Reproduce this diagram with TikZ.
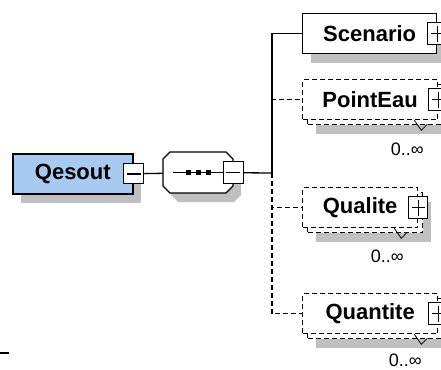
\documentclass[tikz,border=0pt]{standalone}
\usepackage{fontspec}
\setmainfont{Liberation Sans}
\usetikzlibrary{shadows}
\definecolor{elemblue}{RGB}{166,202,240}
\definecolor{shadowgray}{RGB}{192,192,192}
\tikzset{
  elem/.style={draw,fill=white,line width=1.3pt,inner sep=0pt,anchor=north west,minimum height=40pt,font=\bfseries\fontsize{22}{26}\selectfont},
  optelem/.style={elem,dash pattern=on 5pt off 3pt},
  boxshadow/.style={drop shadow={shadow xshift=8pt,shadow yshift=-9pt,fill=shadowgray,opacity=1,draw=none}},
  signbox/.style={draw,solid,fill=white,line width=1.3pt,inner sep=0pt,minimum width=19pt,minimum height=22pt},
  minusbox/.style={signbox,path picture={\draw[solid,line width=1.5pt] ([xshift=3pt]path picture bounding box.west) -- ([xshift=-3pt]path picture bounding box.east);}},
  plusbox/.style={signbox,path picture={\draw[solid,line width=1.5pt] ([xshift=3pt]path picture bounding box.west) -- ([xshift=-3pt]path picture bounding box.east);
    \draw[solid,line width=1.5pt] ([yshift=-3pt]path picture bounding box.north) -- ([yshift=3pt]path picture bounding box.south);}},
  mult/.style={inner sep=0pt,font=\fontsize{18}{20}\selectfont},
  link/.style={line width=1.3pt},
  optlink/.style={link,dash pattern=on 5pt off 3pt}
}
\begin{document}
\begin{tikzpicture}[x=1pt,y=-1pt]
\useasboundingbox (0,0) rectangle (441,369);
\draw[line width=2pt] (0,353) -- (9,353);
\path (12,153) node[elem,boxshadow,fill=elemblue,line width=1.6pt,minimum width=120pt] (qesout) {Qesout};
\path (qesout.east) node[minusbox,minimum width=20pt,minimum height=20pt] (qesoutm) {};
\fill[shadowgray] (178,161) -- (234,161) -- (241,168) -- (241,195) -- (234,202) -- (178,202) -- (171,195) -- (171,168) -- cycle;
\filldraw[fill=white,line width=1.3pt] (170,152) -- (226,152) -- (233,159) -- (233,186) -- (226,193) -- (170,193) -- (163,186) -- (163,159) -- cycle;
\path (163,152) node[inner sep=0pt,anchor=north west,minimum width=70pt,minimum height=41pt] (seq) {};
\draw[line width=1.3pt] ([xshift=-25pt]seq.center) -- ([xshift=25pt]seq.center);
\fill ([xshift=-10pt]seq.center) +(-2.5,-2.5) rectangle +(2.5,2.5);
\fill (seq.center) +(-2.5,-2.5) rectangle +(2.5,2.5);
\fill ([xshift=10pt]seq.center) +(-2.5,-2.5) rectangle +(2.5,2.5);
\path (seq.east) node[minusbox,minimum width=20pt] (seqm) {};
\coordinate (fork) at (272,173);
\path (302,13) node[elem,boxshadow,minimum width=134pt] (scenario) {Scenario};
\path (307,84) node[optelem,boxshadow,minimum width=135pt] (pointeauback) {};
\path (302,79) node[optelem,minimum width=135pt] (pointeau) {PointEau};
\path (307,192) node[optelem,boxshadow,minimum width=115pt] (qualiteback) {};
\path (302,187) node[optelem,minimum width=115pt] (qualite) {Qualite};
\path (307,298) node[optelem,boxshadow,minimum width=135pt] (quantiteback) {};
\path (302,293) node[optelem,minimum width=135pt] (quantite) {Quantite};
\path (scenario.east) node[plusbox] (scenariop) {};
\path (pointeau.east) node[plusbox] (pointeaup) {};
\path (qualite.east) node[plusbox] (qualitep) {};
\path (quantite.east) node[plusbox] (quantitep) {};
\draw[line width=0.8pt] ([shift={(-24,0)}]pointeau.south east) -- ++(7,10) -- ++(6,-6);
\draw[line width=0.8pt] ([shift={(-24,0)}]qualite.south east) -- ++(7,10) -- ++(6,-6);
\draw[line width=0.8pt] ([shift={(-24,0)}]quantite.south east) -- ++(7,10) -- ++(6,-6);
\path ([shift={(-31,29)}]pointeau.south east) node[mult] (pointeaum) {0..∞};
\path ([shift={(-31,28)}]qualite.south east) node[mult] (qualitem) {0..∞};
\path ([shift={(-33,26)}]quantite.south east) node[mult] (quantitem) {0..∞};
\draw[link] (qesoutm) -- (seq);
\draw[link] (seqm) -- (fork);
\draw[link] (fork) |- (scenario);
\draw[optlink] (fork) |- (pointeau);
\draw[optlink] (fork) |- (qualite);
\draw[optlink] (fork) |- (quantite);
\end{tikzpicture}
\end{document}
